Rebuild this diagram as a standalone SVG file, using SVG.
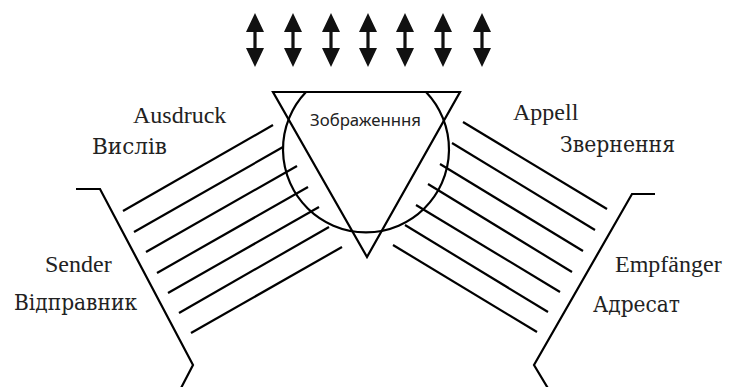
<svg xmlns="http://www.w3.org/2000/svg" xmlns:xlink="http://www.w3.org/1999/xlink" width="729" height="387" viewBox="0 0 729 387">
<style>
.ln{stroke:#000;stroke-width:2.2;fill:none;stroke-linecap:butt}
.lbl{font-family:"Liberation Serif","Times New Roman",serif;font-size:24px;fill:#222}
.cyr{font-family:"DejaVu Serif","Liberation Serif",serif;font-size:22px;fill:#222}
.sym{font-family:"Noto Sans","Open Sans",sans-serif;font-size:16px;fill:#222}
</style>
<defs>
<path id="dbl" d="M0,-27 L9,-8 L1.6,-8 L1.6,8 L9,8 L0,27 L-9,8 L-1.6,8 L-1.6,-8 L-9,-8 Z" fill="#111"/>
</defs>
<rect width="729" height="387" fill="#fff"/>
<g id="object-arrows">
<use xlink:href="#dbl" x="255" y="40"/>
<use xlink:href="#dbl" x="293" y="40"/>
<use xlink:href="#dbl" x="331" y="40"/>
<use xlink:href="#dbl" x="368" y="40"/>
<use xlink:href="#dbl" x="405" y="40"/>
<use xlink:href="#dbl" x="443" y="40"/>
<use xlink:href="#dbl" x="482" y="40"/>
</g>
<g id="sign">
<path class="ln" d="M273,92 L460,92 L367,257 Z"/>
<path class="ln" d="M306,92 A83,83 0 1,0 426,92"/>
<text class="sym" x="310" y="126" textLength="111" lengthAdjust="spacingAndGlyphs">Зображенння</text>
</g>
<g id="sender">
<path class="ln" d="M76,189 L100,189 L193,365 L180,390"/>
<text class="lbl" x="45" y="272">Sender</text>
<text class="cyr" x="14" y="310" textLength="123" lengthAdjust="spacingAndGlyphs">Відправник</text>
</g>
<g id="receiver">
<path class="ln" d="M655,194 L632,194 L534,365 L549,390"/>
<text class="lbl" x="615" y="272">Empfänger</text>
<text class="cyr" x="593" y="312" textLength="87" lengthAdjust="spacingAndGlyphs">Адресат</text>
</g>
<g id="expression-label">
<text class="lbl" x="133" y="123">Ausdruck</text>
<text class="cyr" x="92" y="154" textLength="75" lengthAdjust="spacingAndGlyphs">Вислів</text>
</g>
<g id="appeal-label">
<text class="lbl" x="513" y="120">Appell</text>
<text class="cyr" x="560" y="152" textLength="115" lengthAdjust="spacingAndGlyphs">Звернення</text>
</g>
<g id="connectors">
<g id="expression-lines">
<line class="ln" x1="123" y1="211" x2="273" y2="125"/>
<line class="ln" x1="134" y1="232" x2="283" y2="147"/>
<line class="ln" x1="146" y1="252" x2="297" y2="166"/>
<line class="ln" x1="157" y1="273" x2="308" y2="187"/>
<line class="ln" x1="168" y1="293" x2="319" y2="207"/>
<line class="ln" x1="179" y1="313" x2="329" y2="227"/>
<line class="ln" x1="191" y1="333" x2="342" y2="247"/>
</g>
<g id="appeal-lines">
<line class="ln" x1="463" y1="122" x2="607" y2="209"/>
<line class="ln" x1="452" y1="143" x2="595" y2="230"/>
<line class="ln" x1="440" y1="164" x2="583" y2="251"/>
<line class="ln" x1="428" y1="184" x2="572" y2="272"/>
<line class="ln" x1="416" y1="205" x2="560" y2="292"/>
<line class="ln" x1="405" y1="225" x2="548" y2="312"/>
<line class="ln" x1="393" y1="245" x2="537" y2="332"/>
</g>
</g>
</svg>
